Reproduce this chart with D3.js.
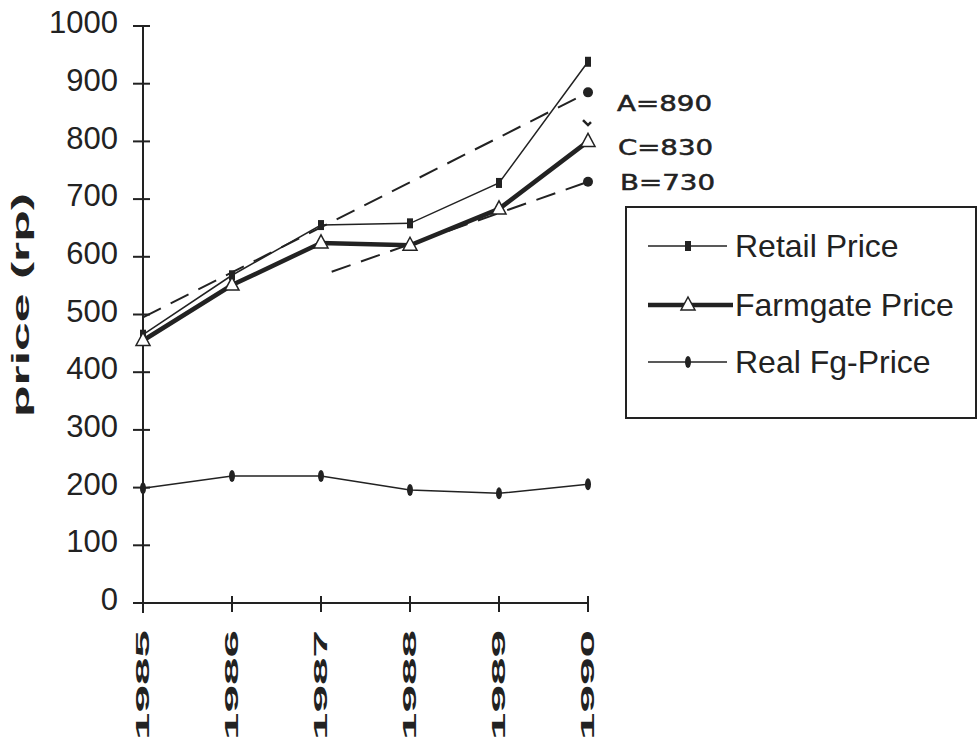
<!DOCTYPE html>
<html>
<head>
<meta charset="utf-8">
<script src="https://cdn.jsdelivr.net/npm/d3@7"></script>
<style>
  body { margin: 0; background: #fff; }
  svg { display: block; }
</style>
</head>
<body>
<svg id="chart" width="978" height="752"></svg>
<script>
// values
const years = [1985, 1986, 1987, 1988, 1989, 1990];
const retail = [465, 568, 655, 658, 728, 938];
const farmgate = [455, 551, 624, 620, 683, 800];
const realFg = [199, 220, 220, 196, 190, 206];
const yTicks = [0, 100, 200, 300, 400, 500, 600, 700, 800, 900, 1000];

// projection trend lines and their end values
const trendA = [[1985, 495], [1990, 885]];
const trendB = [[1987.12, 574], [1990, 730]];
const pointC = [1990, 830];
const projLabels = ['A=890', 'C=830', 'B=730'];
const legendNames = ['Retail Price', 'Farmgate Price', 'Real Fg-Price'];

const ink = '#222';
const svg = d3.select('#chart');

const x = d3.scaleLinear().domain([1985, 1990]).range([143, 588]);
const y = d3.scaleLinear().domain([0, 1000]).range([603, 26]);

// y axis: ticks cross the axis line
const yAxis = svg.append('g');
yAxis.append('line')
  .attr('x1', x(1985)).attr('x2', x(1985))
  .attr('y1', y(1000)).attr('y2', y(0) + 10)
  .attr('stroke', ink).attr('stroke-width', 2);
yAxis.selectAll('.ytick')
  .data(yTicks)
  .join('line')
    .attr('class', 'ytick')
    .attr('x1', x(1985) - 10).attr('x2', x(1985) + 7)
    .attr('y1', (d) => y(d)).attr('y2', (d) => y(d))
    .attr('stroke', ink).attr('stroke-width', 2);
yAxis.selectAll('.ylabel')
  .data(yTicks)
  .join('text')
    .attr('class', 'ylabel')
    .attr('x', 118)
    .attr('y', (d) => y(d) - 1)
    .attr('text-anchor', 'end')
    .attr('dominant-baseline', 'middle')
    .attr('font-family', 'Liberation Sans, Arial, sans-serif')
    .attr('font-size', 31)
    .attr('fill', ink)
    .text((d) => d);

// x axis
const xAxis = svg.append('g');
xAxis.append('line')
  .attr('x1', x(1985)).attr('x2', x(1990))
  .attr('y1', y(0)).attr('y2', y(0))
  .attr('stroke', ink).attr('stroke-width', 2);
xAxis.selectAll('.xtick')
  .data(years)
  .join('line')
    .attr('class', 'xtick')
    .attr('x1', (d) => x(d)).attr('x2', (d) => x(d))
    .attr('y1', y(0) - 7).attr('y2', y(0) + 9)
    .attr('stroke', ink).attr('stroke-width', 2);
xAxis.selectAll('.xlabel')
  .data(years)
  .join('text')
    .attr('class', 'xlabel')
    .attr('transform', (d) => `translate(${x(d) + 1},685) rotate(-90)`)
    .attr('text-anchor', 'middle')
    .attr('dominant-baseline', 'middle')
    .attr('font-family', 'Liberation Sans, Arial, sans-serif')
    .attr('font-weight', 'bold')
    .attr('font-size', 19)
    .attr('textLength', 110)
    .attr('lengthAdjust', 'spacingAndGlyphs')
    .attr('fill', ink)
    .text((d) => d);

// y axis title
svg.append('text')
  .attr('transform', 'translate(23,305) rotate(-90)')
  .attr('text-anchor', 'middle')
  .attr('dominant-baseline', 'middle')
  .attr('font-family', 'Liberation Sans, Arial, sans-serif')
  .attr('font-weight', 'bold')
  .attr('font-size', 23)
  .attr('textLength', 224)
  .attr('lengthAdjust', 'spacingAndGlyphs')
  .attr('fill', ink)
  .text('price (rp)');

const line = d3.line()
  .x((d) => x(d[0]))
  .y((d) => y(d[1]));

// dashed trend lines
svg.append('path')
  .datum(trendA)
  .attr('d', line)
  .attr('fill', 'none')
  .attr('stroke', ink)
  .attr('stroke-width', 2)
  .attr('stroke-dasharray', '20 11');
svg.append('path')
  .datum(trendB)
  .attr('d', line)
  .attr('fill', 'none')
  .attr('stroke', ink)
  .attr('stroke-width', 2)
  .attr('stroke-dasharray', '20 11');

// series lines
const seriesData = (vals) => years.map((yr, i) => [yr, vals[i]]);
svg.append('path')
  .datum(seriesData(retail))
  .attr('d', line)
  .attr('fill', 'none')
  .attr('stroke', ink)
  .attr('stroke-width', 1.5);
svg.append('path')
  .datum(seriesData(farmgate))
  .attr('d', line)
  .attr('fill', 'none')
  .attr('stroke', ink)
  .attr('stroke-width', 4.5);
svg.append('path')
  .datum(seriesData(realFg))
  .attr('d', line)
  .attr('fill', 'none')
  .attr('stroke', ink)
  .attr('stroke-width', 1.5);

// markers
const triangle = (cx, cy) => `M${cx},${cy - 8}L${cx + 7},${cy + 5}L${cx - 7},${cy + 5}Z`;

svg.selectAll('.retailMark')
  .data(seriesData(retail))
  .join('rect')
    .attr('class', 'retailMark')
    .attr('x', (d) => x(d[0]) - 3)
    .attr('y', (d) => y(d[1]) - 5)
    .attr('width', 6)
    .attr('height', 10)
    .attr('fill', ink);
svg.selectAll('.farmMark')
  .data(seriesData(farmgate))
  .join('path')
    .attr('class', 'farmMark')
    .attr('d', (d) => triangle(x(d[0]), y(d[1])))
    .attr('fill', '#fff')
    .attr('stroke', ink)
    .attr('stroke-width', 1.5);
svg.selectAll('.realMark')
  .data(seriesData(realFg))
  .join('ellipse')
    .attr('class', 'realMark')
    .attr('cx', (d) => x(d[0]))
    .attr('cy', (d) => y(d[1]))
    .attr('rx', 3)
    .attr('ry', 6)
    .attr('fill', ink);

// trend end points
svg.selectAll('.endDot')
  .data([trendA[1], trendB[1]])
  .join('circle')
    .attr('class', 'endDot')
    .attr('cx', (d) => x(d[0]))
    .attr('cy', (d) => y(d[1]))
    .attr('r', 5)
    .attr('fill', ink);
svg.append('path')
  .attr('d', `M${x(pointC[0]) - 5},${y(pointC[1]) - 4}L${x(pointC[0])},${y(pointC[1]) + 1}L${x(pointC[0]) + 3},${y(pointC[1]) - 2}`)
  .attr('fill', 'none')
  .attr('stroke', ink)
  .attr('stroke-width', 2.5);

// projection labels
svg.selectAll('.projLabel')
  .data(projLabels)
  .join('text')
    .attr('class', 'projLabel')
    .attr('x', (d, i) => [617, 618, 620][i])
    .attr('y', (d, i) => [111, 155, 190][i])
    .attr('font-family', 'DejaVu Sans, sans-serif')
    .attr('font-size', 21)
    .attr('textLength', 95)
    .attr('lengthAdjust', 'spacingAndGlyphs')
    .attr('fill', ink)
    .attr('stroke', ink)
    .attr('stroke-width', 0.5)
    .text((d) => d);

// legend
const legend = svg.append('g');
legend.append('rect')
  .attr('x', 626).attr('y', 207)
  .attr('width', 350).attr('height', 211)
  .attr('fill', '#fff')
  .attr('stroke', ink)
  .attr('stroke-width', 2);
const legendY = [246, 305, 362];
const legendWidth = [1.5, 4.5, 1.5];
legend.selectAll('.legLine')
  .data(legendNames)
  .join('line')
    .attr('class', 'legLine')
    .attr('x1', 648).attr('x2', (d, i) => (i === 1 ? 733 : 727))
    .attr('y1', (d, i) => legendY[i]).attr('y2', (d, i) => legendY[i])
    .attr('stroke', ink)
    .attr('stroke-width', (d, i) => legendWidth[i]);
legend.append('rect')
  .attr('x', 685).attr('y', legendY[0] - 5)
  .attr('width', 6).attr('height', 10)
  .attr('fill', ink);
legend.append('path')
  .attr('d', triangle(688, legendY[1]))
  .attr('fill', '#fff')
  .attr('stroke', ink)
  .attr('stroke-width', 1.5);
legend.append('ellipse')
  .attr('cx', 688).attr('cy', legendY[2])
  .attr('rx', 3).attr('ry', 6)
  .attr('fill', ink);
legend.selectAll('.legText')
  .data(legendNames)
  .join('text')
    .attr('class', 'legText')
    .attr('x', 735)
    .attr('y', (d, i) => legendY[i] + 11)
    .attr('font-family', 'Liberation Sans, Arial, sans-serif')
    .attr('font-size', 32)
    .attr('fill', ink)
    .text((d) => d);
</script>
</body>
</html>
